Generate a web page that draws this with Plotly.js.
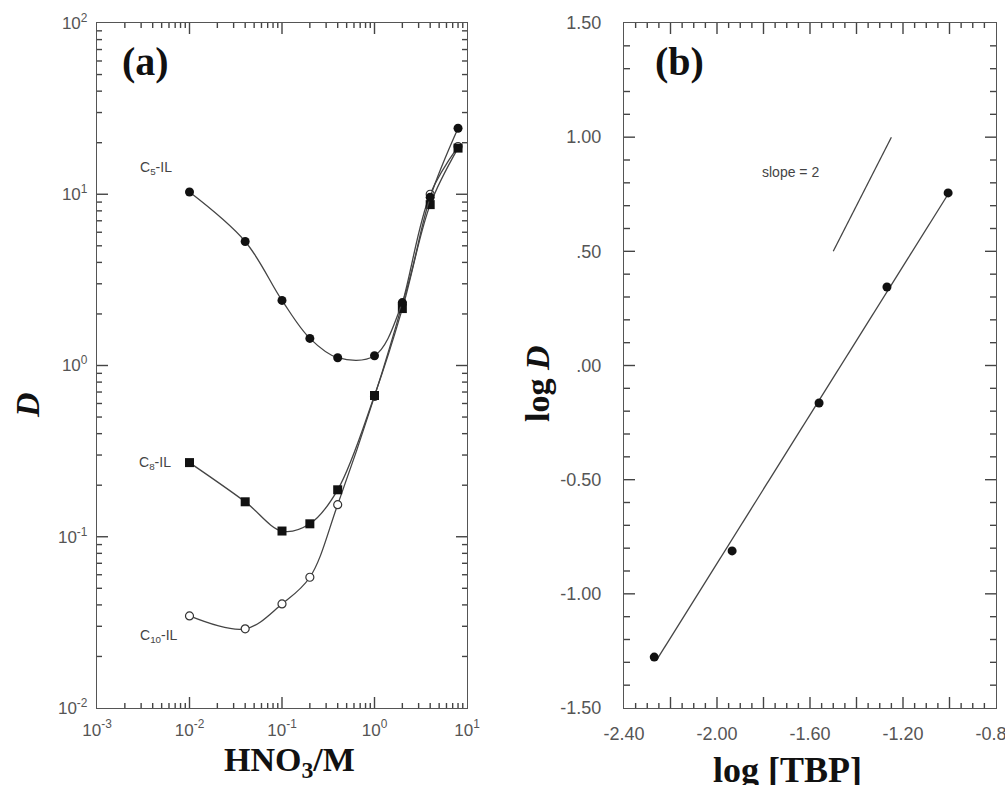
<!DOCTYPE html>
<html>
<head>
<meta charset="utf-8">
<script src="https://cdn.plot.ly/plotly-3.0.1.min.js"></script>
<style>html,body{margin:0;padding:0;background:#fff;}#chart{width:1005px;height:785px;}</style>
</head>
<body>
<div id="chart"></div>
<script>
// Panel (a): D vs HNO3 concentration
const hno3 = [0.01, 0.04, 0.1, 0.2, 0.4, 1, 2, 4, 8];
const c5D  = [10.3, 5.3, 2.4, 1.44, 1.11, 1.14, 2.33, 9.6, 24.3];
const c8D  = [0.271, 0.16, 0.108, 0.119, 0.188, 0.668, 2.15, 8.7, 18.6];
const c10D = [0.0345, 0.029, 0.0405, 0.058, 0.154, 0.66, 2.3, 10.0, 19.0];
const logTickVals = [0.001, 0.01, 0.1, 1, 10];
const logTickText = ['10<sup>-3</sup>', '10<sup>-2</sup>', '10<sup>-1</sup>', '10<sup>0</sup>', '10<sup>1</sup>'];
const logYTickVals = [0.01, 0.1, 1, 10, 100];
const logYTickText = ['10<sup>-2</sup>', '10<sup>-1</sup>', '10<sup>0</sup>', '10<sup>1</sup>', '10<sup>2</sup>'];

// Panel (b): log D vs log [TBP]
const logTBP = [-2.27, -1.935, -1.561, -1.269, -1.006];
const logD   = [-1.277, -0.812, -0.164, 0.344, 0.756];
const fitX   = [-2.26, -1.00];
const fitY   = [-1.29, 0.76];
const slopeX = [-1.50, -1.25];
const slopeY = [0.50, 1.00];
const bXTickVals = [-2.4, -2.2, -2.0, -1.8, -1.6, -1.4, -1.2, -1.0, -0.8];
const bXTickText = ['-2.40', '', '-2.00', '', '-1.60', '', '-1.20', '', '-0.80'];
const bYTickVals = [-1.5, -1.0, -0.5, 0, 0.5, 1.0, 1.5];
const bYTickText = ['-1.50', '-1.00', '-0.50', '.00', '.50', '1.00', '1.50'];

// minor tick positions (axis decoration only)
const minorLogX = [], minorLogY = [], minorBX = [], minorBY = [];
for (let d = -3; d <= 1; d++) for (let k = 2; k <= 9; k++) {
  const v = k * Math.pow(10, d);
  if (d < 1) minorLogX.push(v);
  if (d >= -2 && d < 2) minorLogY.push(v);
}
for (let i = 1; i < 32; i++) if (i % 4 !== 0) minorBX.push(-2.4 + i * 0.05);
for (let i = 1; i < 30; i++) if (i % 5 !== 0) minorBY.push(-1.5 + i * 0.1);

const lineCol = '#444';
const axisCol = '#444';
const serif = 'Liberation Serif, Times New Roman, serif';
const sans = 'Liberation Sans, Arial, sans-serif';

const plotH = 685, widthA = 370, widthB = 372;
const domA = [97/1005, 467/1005];
const domB = [624/1005, 996/1005];
const domY = [1 - 708/785, 1 - 23/785];
const rangeAX = [-3, 1], rangeAY = [-2, 2], rangeBX = [-2.4, -0.8], rangeBY = [-1.5, 1.5];

// tick marks drawn as line traces on every side, in each axis' own units
function tickTrace(xa, ya, xVals, yVals, isLog, isX, len, pxSpan, rng) {
  const X = [], Y = [];
  const unit = (rng[1] - rng[0]) / pxSpan * len;
  const toData = isLog ? function(u) { return Math.pow(10, u); } : function(u) { return u; };
  const a0 = toData(rng[0]), a1 = toData(rng[0] + unit), b0 = toData(rng[1]), b1 = toData(rng[1] - unit);
  (isX ? xVals : yVals).forEach(function(v) {
    if (isX) { X.push(v, v, null, v, v, null); Y.push(a0, a1, null, b0, b1, null); }
    else { Y.push(v, v, null, v, v, null); X.push(a0, a1, null, b0, b1, null); }
  });
  return {x: X, y: Y, xaxis: xa, yaxis: ya, mode: 'lines', connectgaps: false, hoverinfo: 'skip',
          line: {color: axisCol, width: 1.4}};
}

const traces = [
  tickTrace('x', 'y', logTickVals.slice(1, -1), null, true, true, 11, plotH, rangeAY),
  tickTrace('x', 'y', minorLogX, null, true, true, 5, plotH, rangeAY),
  tickTrace('x', 'y', null, logYTickVals.slice(1, -1), true, false, 11, widthA, rangeAX),
  tickTrace('x', 'y', null, minorLogY, true, false, 5, widthA, rangeAX),
  tickTrace('x2', 'y2', bXTickVals.slice(1, -1), null, false, true, 11, plotH, rangeBY),
  tickTrace('x2', 'y2', minorBX, null, false, true, 5, plotH, rangeBY),
  tickTrace('x2', 'y2', null, bYTickVals.slice(1, -1), false, false, 11, widthB, rangeBX),
  tickTrace('x2', 'y2', null, minorBY, false, false, 6, widthB, rangeBX),
  {x: hno3, y: c10D, xaxis: 'x', yaxis: 'y', mode: 'lines+markers', line: {shape: 'spline', color: lineCol, width: 1.3},
   marker: {symbol: 'circle', size: 8, color: '#fff', line: {color: '#333', width: 1.2}}},
  {x: hno3, y: c8D, xaxis: 'x', yaxis: 'y', mode: 'lines+markers', line: {shape: 'spline', color: lineCol, width: 1.3},
   marker: {symbol: 'square', size: 9, color: '#111'}},
  {x: hno3, y: c5D, xaxis: 'x', yaxis: 'y', mode: 'lines+markers', line: {shape: 'spline', color: lineCol, width: 1.3},
   marker: {symbol: 'circle', size: 9, color: '#111'}},
  {x: fitX, y: fitY, xaxis: 'x2', yaxis: 'y2', mode: 'lines', line: {color: lineCol, width: 1.3}},
  {x: slopeX, y: slopeY, xaxis: 'x2', yaxis: 'y2', mode: 'lines', line: {color: lineCol, width: 1.3}},
  {x: logTBP, y: logD, xaxis: 'x2', yaxis: 'y2', mode: 'markers', marker: {symbol: 'circle', size: 9, color: '#111'}}
];

const baseAxis = {
  showline: true, linecolor: '#555', linewidth: 1.3, mirror: true, ticks: '',
  showgrid: false, zeroline: false, tickmode: 'array'
};

function ann(text, px, py, size, family, color, extra) {
  return Object.assign({text: text, xref: 'paper', yref: 'paper', x: px/1005, y: 1 - py/785,
    xanchor: 'center', yanchor: 'middle', showarrow: false,
    font: {family: family, size: size, color: color}}, extra || {});
}

const layout = {
  width: 1005, height: 785,
  margin: {l: 0, r: 0, t: 0, b: 0},
  showlegend: false,
  xaxis: Object.assign({}, baseAxis, {
    type: 'log', domain: domA, range: rangeAX, anchor: 'y',
    tickvals: logTickVals, ticktext: logTickText, ticklabelstandoff: 6,
    tickfont: {family: sans, size: 17, color: '#555'}
  }),
  yaxis: Object.assign({}, baseAxis, {
    type: 'log', domain: domY, range: rangeAY, anchor: 'x',
    tickvals: logYTickVals, ticktext: logYTickText, ticklabelstandoff: 5,
    tickfont: {family: sans, size: 17, color: '#555'}
  }),
  xaxis2: Object.assign({}, baseAxis, {
    domain: domB, range: rangeBX, anchor: 'y2', ticklabeloverflow: 'allow',
    tickvals: bXTickVals, ticktext: bXTickText, ticklabelstandoff: 9,
    tickfont: {family: sans, size: 18, color: '#555'}
  }),
  yaxis2: Object.assign({}, baseAxis, {
    domain: domY, range: rangeBY, anchor: 'x2',
    tickvals: bYTickVals, ticktext: bYTickText, ticklabelstandoff: 18,
    tickfont: {family: sans, size: 18, color: '#555'}
  }),
  annotations: [
    ann('<b>(a)</b>', 145, 62, 40, serif, '#111'),
    ann('<b>(b)</b>', 679, 62, 40, serif, '#111'),
    ann('<b><i>D</i></b>', 27, 405, 34, serif, '#111', {textangle: -90}),
    ann('<b>HNO<sub>3</sub>/M</b>', 289, 762, 34, serif, '#111'),
    ann('<b>log <i>D</i></b>', 537, 384, 34, serif, '#111', {textangle: -90}),
    ann('<b>log [TBP]</b>', 787, 770, 36, serif, '#111'),
    ann('C<sub>5</sub>-IL', 138, 168, 14, sans, '#444', {xanchor: 'left'}),
    ann('C<sub>8</sub>-IL', 137, 463, 14, sans, '#444', {xanchor: 'left'}),
    ann('C<sub>10</sub>-IL', 138, 636, 14, sans, '#444', {xanchor: 'left'}),
    ann('slope = 2', 790, 172, 14, sans, '#444')
  ]
};

Plotly.newPlot('chart', traces, layout, {displayModeBar: false});
</script>
</body>
</html>
